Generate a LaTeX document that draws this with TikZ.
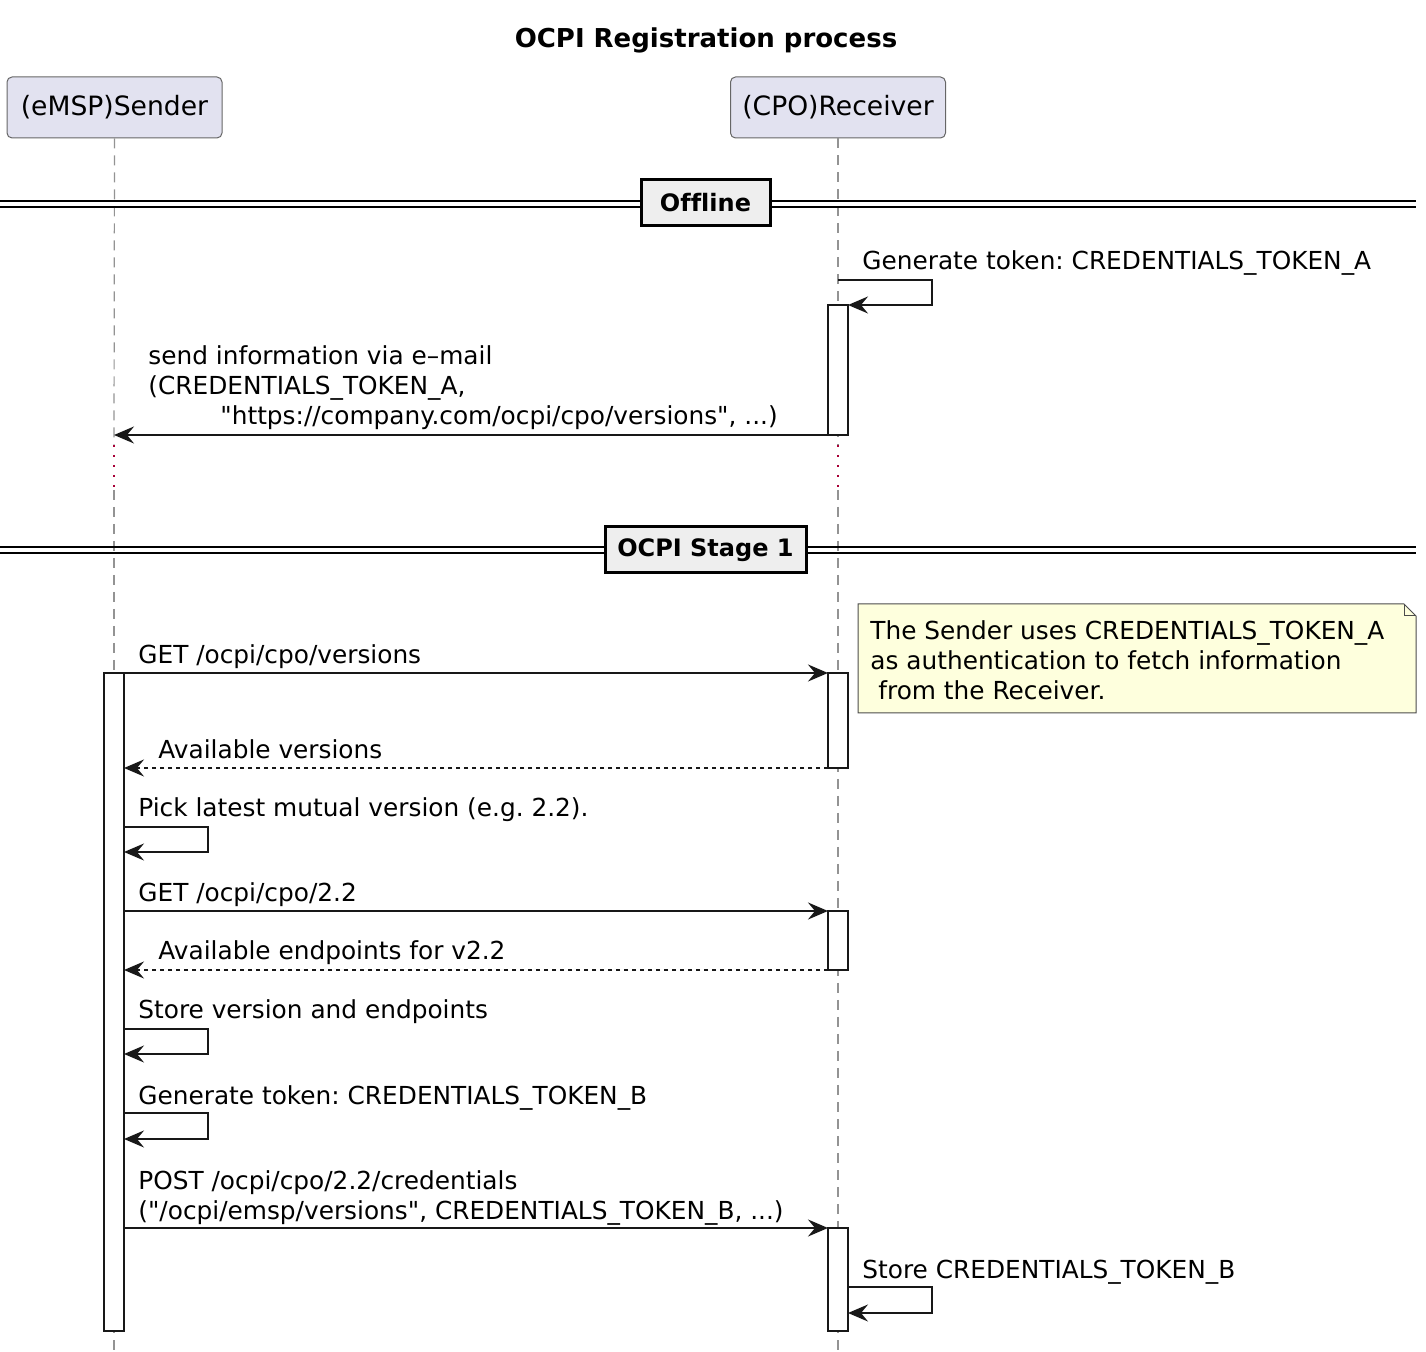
\documentclass[tikz,border=0pt]{standalone}
\usepackage{fontspec}
\setmainfont{DejaVu Sans}
\usetikzlibrary{arrows.meta}
\definecolor{partfill}{HTML}{E2E2F0}
\definecolor{notefill}{HTML}{FEFFDD}
\definecolor{divfill}{HTML}{EEEEEE}
\definecolor{delaycol}{HTML}{A80036}
\definecolor{ink}{HTML}{181818}
\frenchspacing
\begin{document}
\begin{tikzpicture}[x=0.5pt,y=-0.5pt,
  txt/.style={font=\fontsize{12.4}{15}\selectfont, inner sep=0pt, anchor=base west, align=left, text=black},
  participant/.style={draw=gray!80!black, line width=0.5pt, fill=partfill, rounded corners=2.5pt, minimum width=107.5pt, minimum height=30.5pt, font=\fontsize{13.3}{16}\selectfont, inner sep=0pt},
  lifeline/.style={draw=gray!85, line width=0.6pt, dash pattern=on 5pt off 3.5pt},
  delayline/.style={draw=delaycol, line width=1pt, dash pattern=on 1pt off 4pt},
  actbox/.style={draw=ink, line width=1pt, fill=white},
  msg/.style={draw=ink, line width=0.85pt, -{Stealth[length=10pt, width=8.5pt, inset=3.5pt]}},
  reply/.style={msg, dash pattern=on 2pt off 2pt},
  divbox/.style={draw=black, line width=1.5pt, fill=divfill, font=\bfseries\fontsize{12}{15}\selectfont\addfontfeatures{Ligatures=NoCommon}, inner sep=0pt, minimum height=23pt},
  divline/.style={draw=black, line width=0.8pt},
  notebox/.style={draw=gray!60!black, line width=0.5pt, fill=notefill}
]
\useasboundingbox (0,0) rectangle (1426,1352);

% title
\node[font=\bfseries\fontsize{13}{16}\selectfont] (title) at (706,40) {OCPI Registration process};

% participants
\node[participant] (snd) at (114.5,107.5) {\raisebox{-1pt}{(eMSP)Sender}};
\node[participant] (rcv) at (838,107.5) {\raisebox{-1pt}{(CPO)Receiver}};

% lifeline coordinates
\coordinate (sB) at (114,445);
\coordinate (sC) at (114,490);
\coordinate (sD) at (114,1352);
\coordinate (rB) at (838,445);
\coordinate (rC) at (838,490);
\coordinate (rD) at (838,1352);
\draw[lifeline] (snd.south) -- (sB);
\draw[delayline] (sB) -- (sC);
\draw[lifeline] (sC) -- (sD);
\draw[lifeline] (rcv.south) -- (rB);
\draw[delayline] (rB) -- (rC);
\draw[lifeline] (rC) -- (rD);

% divider Offline
\draw[divline] (0,201) -- (1416,201);
\draw[divline] (0,207) -- (1416,207);
\node[divbox, minimum width=64.5pt] (offline) at (705.5,203) {Offline};

% divider Stage 1
\draw[divline] (0,547) -- (1416,547);
\draw[divline] (0,553) -- (1416,553);
\node[divbox, minimum width=100.5pt] (stage) at (705.5,550) {OCPI Stage 1};

% activation boxes
\node[actbox, minimum width=10pt, minimum height=65pt, inner sep=0pt] (ra1) at (838,370) {};
\node[actbox, minimum width=10pt, minimum height=329pt, inner sep=0pt] (sa1) at (114,1002) {};
\node[actbox, minimum width=10pt, minimum height=47.5pt, inner sep=0pt] (ra2) at (838,720.5) {};
\node[actbox, minimum width=10pt, minimum height=29.5pt, inner sep=0pt] (ra3) at (838,940.5) {};
\node[actbox, minimum width=10pt, minimum height=51.5pt, inner sep=0pt] (ra4) at (838,1279.5) {};

% self message on receiver: generate token A
\coordinate (m1a) at (838,280);
\coordinate (m1b) at (848,305);
\node[txt] (l1) at (862,270) {Generate token: CREDENTIALS\_TOKEN\_A};
\draw[msg] (m1a) -- (932,280) |- (m1b);

% send information via e-mail
\coordinate (m2a) at (828,435);
\coordinate (m2b) at (114,435);
\node[txt] (l2) at (148,425) {send information via e\textendash mail\\(CREDENTIALS\_TOKEN\_A,\\\hspace*{36pt}\textquotedbl https://company.com/ocpi/cpo/versions\textquotedbl, ...)};
\draw[msg] (m2a) -- (m2b);

% note
\path[notebox] (858,604) -- (1404,604) -- (1416,616) -- (1416,713) -- (858,713) -- cycle;
\draw[notebox, fill=none] (1404,604) -- (1404,616) -- (1416,616);
\node[txt] (note) at (870,700) {The Sender uses CREDENTIALS\_TOKEN\_A\\as authentication to fetch information\\\hspace*{4pt}from the Receiver.};

% GET versions
\coordinate (m3a) at (124,673);
\coordinate (m3b) at (828,673);
\node[txt] (l3) at (138,664) {GET /ocpi/cpo/versions};
\draw[msg] (m3a) -- (m3b);

% Available versions
\coordinate (m4a) at (828,768);
\coordinate (m4b) at (124,768);
\node[txt] (l4) at (158,759) {Available versions};
\draw[reply] (m4a) -- (m4b);

% Pick latest
\coordinate (m5a) at (124,827);
\coordinate (m5b) at (124,852);
\node[txt] (l5) at (138,817) {Pick latest mutual version (e.g. 2.2).};
\draw[msg] (m5a) -- (208,827) |- (m5b);

% GET 2.2
\coordinate (m6a) at (124,911);
\coordinate (m6b) at (828,911);
\node[txt] (l6) at (138,902) {GET /ocpi/cpo/2.2};
\draw[msg] (m6a) -- (m6b);

% Available endpoints
\coordinate (m7a) at (828,970);
\coordinate (m7b) at (124,970);
\node[txt] (l7) at (158,960) {Available endpoints for v2.2};
\draw[reply] (m7a) -- (m7b);

% Store version
\coordinate (m8a) at (124,1029);
\coordinate (m8b) at (124,1054);
\node[txt] (l8) at (138,1019) {Store version and endpoints};
\draw[msg] (m8a) -- (208,1029) |- (m8b);

% Generate token B
\coordinate (m9a) at (124,1113);
\coordinate (m9b) at (124,1139);
\node[txt] (l9) at (138,1104) {Generate token: CREDENTIALS\_TOKEN\_B};
\draw[msg] (m9a) -- (208,1113) |- (m9b);

% POST credentials
\coordinate (m10a) at (124,1228);
\coordinate (m10b) at (828,1228);
\node[txt] (l10) at (138,1219) {POST /ocpi/cpo/2.2/credentials\\(\textquotedbl/ocpi/emsp/versions\textquotedbl, CREDENTIALS\_TOKEN\_B, ...)};
\draw[msg] (m10a) -- (m10b);

% Store token B
\coordinate (m11a) at (848,1287);
\coordinate (m11b) at (848,1313);
\node[txt] (l11) at (862,1278) {Store CREDENTIALS\_TOKEN\_B};
\draw[msg] (m11a) -- (932,1287) |- (m11b);
\end{tikzpicture}
\end{document}
